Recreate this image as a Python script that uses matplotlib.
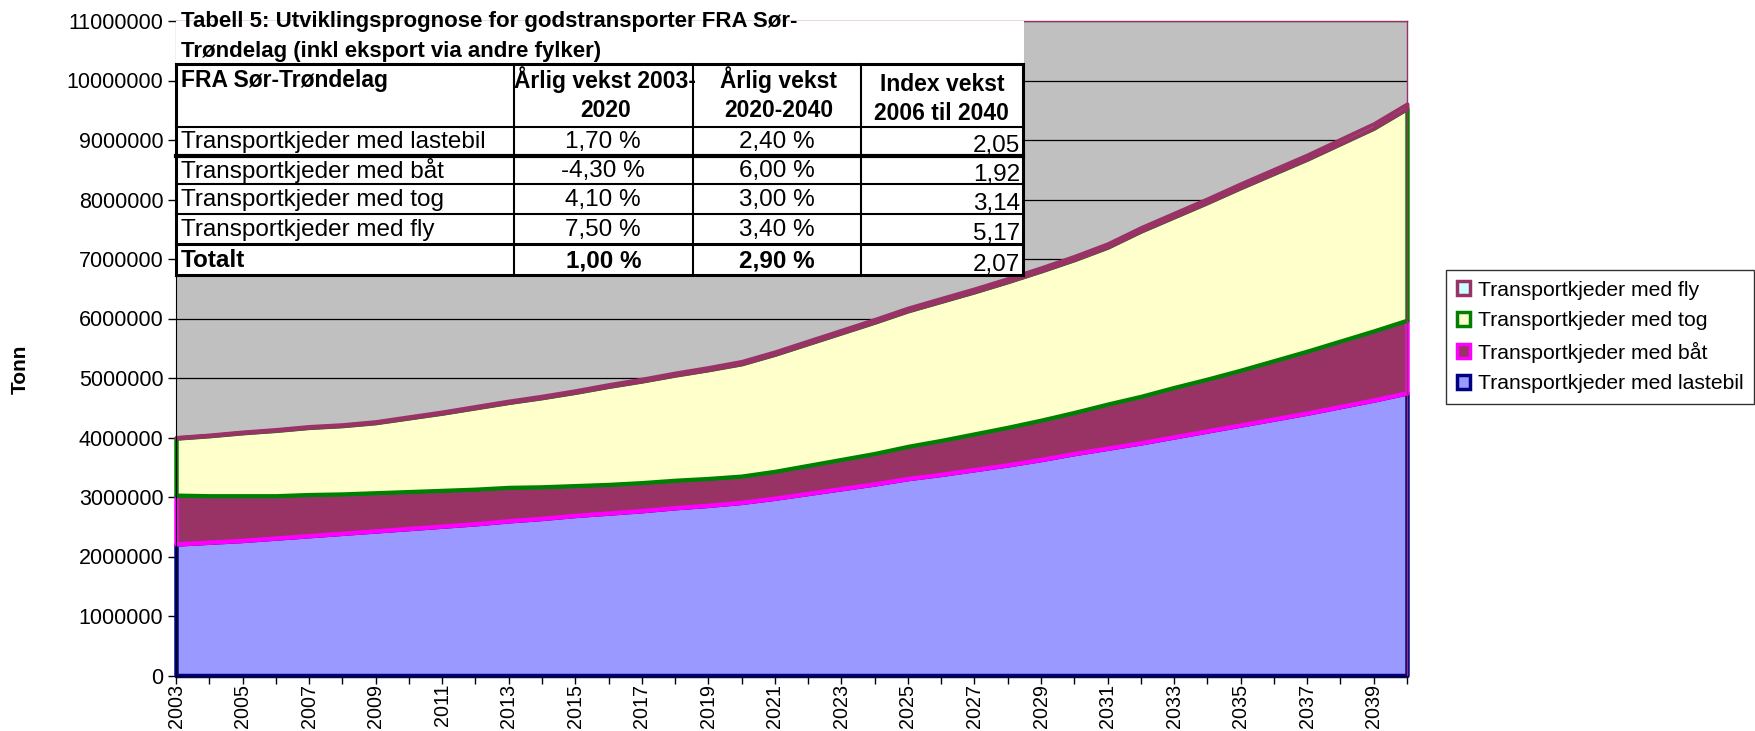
import matplotlib
matplotlib.use('Agg')
import matplotlib.pyplot as plt
from matplotlib.patches import Patch, Rectangle
from matplotlib.ticker import FuncFormatter

plt.rcParams['font.family'] = ['Liberation Sans', 'DejaVu Sans']

years = list(range(2003, 2041))

# tonn per year
lastebil = [2210000, 2240000, 2270000, 2310000, 2350000, 2390000, 2430000, 2470000,
            2510000, 2550000, 2600000, 2640000, 2690000, 2730000, 2770000, 2820000,
            2860000, 2910000, 2980000, 3060000, 3140000, 3220000, 3310000, 3380000,
            3460000, 3540000, 3630000, 3730000, 3820000, 3910000, 4010000, 4110000,
            4210000, 4310000, 4410000, 4520000, 4630000, 4750000]
bat = [820000, 780000, 750000, 710000, 690000, 660000, 640000, 620000,
       600000, 580000, 560000, 530000, 500000, 480000, 470000, 460000,
       450000, 440000, 450000, 470000, 490000, 510000, 540000, 570000,
       600000, 630000, 660000, 690000, 740000, 780000, 830000, 870000,
       920000, 980000, 1040000, 1100000, 1160000, 1220000]
tog = [960000, 1010000, 1060000, 1100000, 1130000, 1150000, 1180000, 1240000,
       1300000, 1370000, 1430000, 1500000, 1570000, 1650000, 1710000, 1770000,
       1830000, 1890000, 1970000, 2050000, 2130000, 2210000, 2280000, 2340000,
       2390000, 2450000, 2510000, 2570000, 2640000, 2780000, 2870000, 2970000,
       3070000, 3150000, 3230000, 3320000, 3410000, 3560000]
fly = [12000, 13000, 14000, 15000, 16000, 17000, 18000, 20000,
       21000, 23000, 24000, 26000, 28000, 30000, 32000, 35000,
       37000, 40000, 41000, 43000, 44000, 46000, 47000, 49000,
       50000, 52000, 54000, 56000, 57000, 59000, 61000, 63000,
       66000, 68000, 70000, 73000, 75000, 78000]

series_names = ['Transportkjeder med lastebil', 'Transportkjeder med båt',
                'Transportkjeder med tog', 'Transportkjeder med fly']
fills = ['#9999FF', '#993366', '#FFFFCC', '#CCFFFF']
edges = ['#000080', '#FF00FF', '#008000', '#993366']
widths = [3.2, 3.2, 3.2, 2.8]

table_title = ['Tabell 5: Utviklingsprognose for godstransporter FRA Sør-',
               'Trøndelag (inkl eksport via andre fylker)']
table_header = ['FRA Sør-Trøndelag', 'Årlig vekst 2003-\n2020',
                'Årlig vekst\n2020-2040', 'Index vekst\n2006 til 2040']
row_labels = ['Transportkjeder med lastebil', 'Transportkjeder med båt',
              'Transportkjeder med tog', 'Transportkjeder med fly', 'Totalt']
vekst_2003_2020 = ['1,70 %', '-4,30 %', '4,10 %', '7,50 %', '1,00 %']
vekst_2020_2040 = ['2,40 %', '6,00 %', '3,00 %', '3,40 %', '2,90 %']
index_vekst = ['2,05', '1,92', '3,14', '5,17', '2,07']

W, H = 1755, 731
fig = plt.figure(figsize=(W / 100, H / 100), dpi=100)
ax = fig.add_axes([176 / W, 1 - 675.5 / H, (1407 - 176) / W, (675.5 - 21) / H])
ax.set_facecolor('#C0C0C0')

lower = [0] * len(years)
for vals, fc, ec, lw in zip([lastebil, bat, tog, fly], fills, edges, widths):
    upper = [a + b for a, b in zip(lower, vals)]
    ax.fill_between(years, lower, upper, facecolor=fc, edgecolor=ec,
                    linewidth=lw, clip_on=False, zorder=2)
    lower = upper

ax.set_xlim(2003, 2040)
ax.set_ylim(0, 11000000)
ax.set_yticks(range(0, 11000001, 1000000))
ax.yaxis.set_major_formatter(FuncFormatter(lambda v, p: '%d' % v))
ax.yaxis.grid(True, color='black', linewidth=0.9)
ax.set_axisbelow(True)
ax.set_xticks(years)
ax.set_xticklabels([str(y) if (y - 2003) % 2 == 0 else '' for y in years],
                   rotation=90)
ax.tick_params(direction='out', length=6, width=1)
ax.tick_params(axis='y', labelsize=15.5, pad=3)
ax.tick_params(axis='x', labelsize=14.2, pad=0)
ax.spines['left'].set_color('black')
ax.spines['bottom'].set_color('black')
for s in ['top', 'right']:
    ax.spines[s].set_color('#993366')
    ax.spines[s].set_linewidth(1)

fig.text(20 / W, 1 - 369 / H, 'Tonn', rotation=90, fontsize=15, fontweight='bold',
         ha='center', va='center')

handles = [Patch(facecolor=fills[i], edgecolor=edges[i], linewidth=2.5,
                 label=series_names[i]) for i in [3, 2, 1, 0]]
leg = fig.legend(handles=handles, loc='upper left',
                 bbox_to_anchor=(1446 / W, 1 - 270 / H), fontsize=15.2,
                 frameon=True, fancybox=False, edgecolor='black',
                 handlelength=0.65, handleheight=0.65, handletextpad=0.35,
                 labelspacing=0.55, borderpad=0.5, borderaxespad=0)
leg.get_frame().set_linewidth(1)

# table overlay in pixel coordinates
ov = fig.add_axes([0, 0, 1, 1], zorder=5)
ov.set_xlim(0, W)
ov.set_ylim(H, 0)
ov.axis('off')
ov.patch.set_alpha(0)

ov.add_patch(Rectangle((176, 21), 1024 - 176, 275.4 - 21, facecolor='white',
                       edgecolor='none'))
for i, line in enumerate(table_title):
    ov.text(181, 21 + 30 * i, line, fontsize=16, fontweight='bold',
            ha='left', va='center')

col_x = [176, 513.8, 692.8, 860.7, 1023]
row_y = [64, 126.5, 155.6, 183.6, 213.8, 244, 275.4]
row_lw = [2.2, 1.5, 3.0, 1.5, 1.5, 2.2, 2.2]
for y, lw in zip(row_y, row_lw):
    ov.plot([col_x[0], col_x[-1]], [y, y], color='black', lw=lw,
            solid_capstyle='projecting')
for i, x in enumerate(col_x):
    lw = 2.2 if i in (0, len(col_x) - 1) else 1.5
    ov.plot([x, x], [row_y[0], row_y[-1]], color='black', lw=lw,
            solid_capstyle='projecting')

fs = 17.5
hfs = 16.5
ov.text(181, 80, table_header[0], fontsize=hfs, fontweight='bold',
        ha='left', va='center')
for j in (1, 2):
    ov.text((col_x[j] + col_x[j + 1]) / 2 + 2, 94, table_header[j], fontsize=hfs,
            fontweight='bold', ha='center', va='center', linespacing=1.35)
ov.text((col_x[3] + col_x[4]) / 2, 99, table_header[3], fontsize=hfs,
        fontweight='bold', ha='center', va='center', linespacing=1.35)

for i in range(len(row_labels)):
    yc = (row_y[i + 1] + row_y[i + 2]) / 2 + 1
    wt = 'bold' if row_labels[i] == 'Totalt' else 'normal'
    ov.text(181, yc, row_labels[i], fontsize=fs, fontweight=wt, ha='left', va='center')
    ov.text((col_x[1] + col_x[2]) / 2, yc, vekst_2003_2020[i], fontsize=fs,
            fontweight=wt, ha='center', va='center')
    ov.text((col_x[2] + col_x[3]) / 2, yc, vekst_2020_2040[i], fontsize=fs,
            fontweight=wt, ha='center', va='center')
    ov.text(col_x[4] - 3, yc + 4, index_vekst[i], fontsize=fs,
            ha='right', va='center')

fig.savefig('out.png', dpi=100)
